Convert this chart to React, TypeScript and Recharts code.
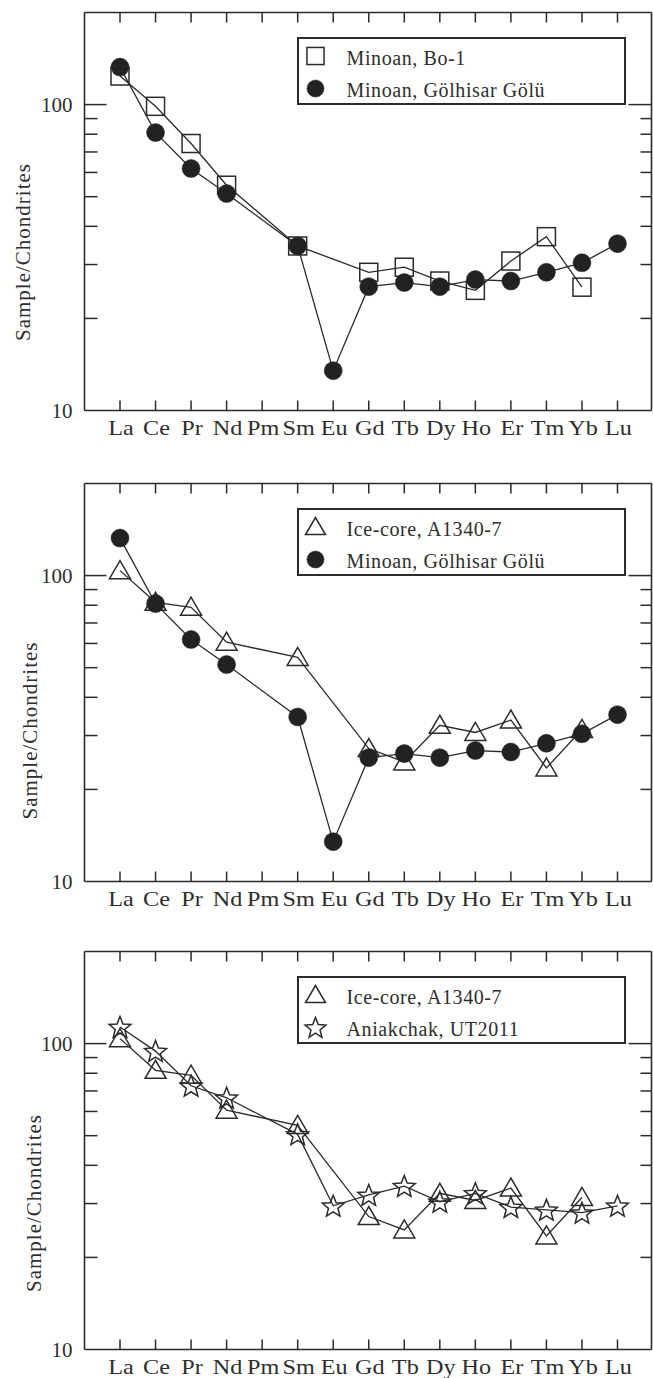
import React from 'react'
import { LineChart, Line, XAxis, YAxis, Legend } from 'recharts'

// rare earth elements on the x axis
const elements = ['La', 'Ce', 'Pr', 'Nd', 'Pm', 'Sm', 'Eu', 'Gd', 'Tb', 'Dy', 'Ho', 'Er', 'Tm', 'Yb', 'Lu']

const bo1 = [124, 98.7, 74.6, 54.5, null, 34.5, null, 28.3, 29.4, 26.5, 24.7, 30.8, 37.0, 25.3, null]
const golhisar = [132.6, 81.0, 61.8, 51.2, null, 34.5, 13.5, 25.4, 26.2, 25.4, 26.8, 26.5, 28.3, 30.4, 35.1]
const iceCore = [103.8, 81.8, 78.8, 60.6, null, 54.0, null, 27.2, 24.6, 32.4, 30.7, 33.7, 23.5, 31.4, null]
const aniakchak = [113.3, 94.5, 72.8, 66.5, null, 50.5, 29.5, 32.0, 34.2, 30.4, 32.4, 29.2, 28.6, 28.0, 29.5]

const yTicks = [10, 20, 30, 40, 50, 60, 70, 80, 90, 100]
const yDomain = [10, 200]

const data = elements.map((el, i) => ({
  el,
  bo1: bo1[i],
  golhisar: golhisar[i],
  iceCore: iceCore[i],
  aniakchak: aniakchak[i],
}))

type Marker = 'square' | 'circle' | 'triangle' | 'star'

const panels = [
  {
    top: 0,
    titleX: 23,
    titleY: 252,
    series: [
      { key: 'bo1', name: 'Minoan, Bo-1', marker: 'square' as Marker },
      { key: 'golhisar', name: 'Minoan, Gölhisar Gölü', marker: 'circle' as Marker },
    ],
  },
  {
    top: 470.5,
    titleX: 30,
    titleY: 259.5,
    series: [
      { key: 'iceCore', name: 'Ice-core, A1340-7', marker: 'triangle' as Marker },
      { key: 'golhisar', name: 'Minoan, Gölhisar Gölü', marker: 'circle' as Marker },
    ],
  },
  {
    top: 939.2,
    titleX: 34,
    titleY: 264,
    series: [
      { key: 'iceCore', name: 'Ice-core, A1340-7', marker: 'triangle' as Marker },
      { key: 'aniakchak', name: 'Aniakchak, UT2011', marker: 'star' as Marker },
    ],
  },
]

const INK = '#2b2b2b'
const TEXT = '#2e2e2e'
const FONT = "'Liberation Serif', 'Times New Roman', serif"

function starPoints(cx: number, cy: number, R: number, r: number) {
  const pts: string[] = []
  for (let i = 0; i < 10; i++) {
    const rad = i % 2 === 0 ? R : r
    const a = -Math.PI / 2 + (i * Math.PI) / 5
    pts.push(`${(cx + rad * Math.cos(a)).toFixed(2)},${(cy + rad * Math.sin(a)).toFixed(2)}`)
  }
  return pts.join(' ')
}

function MarkerShape({ type, cx, cy, s = 1 }: { type: Marker; cx: number; cy: number; s?: number }) {
  if (type === 'square') {
    const h = 9 * s
    return <rect x={cx - h} y={cy - h} width={2 * h} height={2 * h} fill="none" stroke={INK} strokeWidth={1.5} />
  }
  if (type === 'circle') {
    return <circle cx={cx} cy={cy} r={9 * s} fill="#222" stroke="#222" strokeWidth={0.5} />
  }
  if (type === 'triangle') {
    const pts = `${cx},${cy - 10 * s} ${cx - 10.5 * s},${cy + 8 * s} ${cx + 10.5 * s},${cy + 8 * s}`
    return <polygon points={pts} fill="none" stroke={INK} strokeWidth={1.5} strokeLinejoin="miter" />
  }
  return <polygon points={starPoints(cx, cy + 1 * s, 11.5 * s, 5 * s)} fill="none" stroke={INK} strokeWidth={1.5} />
}

const makeDot = (type: Marker) => (p: any) => {
  if (p.cx == null || p.cy == null || p.value == null) return <g key={`d-${p.index}`} />
  return (
    <g key={`d-${p.index}`}>
      <MarkerShape type={type} cx={p.cx} cy={p.cy} />
    </g>
  )
}

const LeftTick = (p: any) => {
  const v = p.payload.value
  return (
    <g>
      {v !== 10 && <line x1={p.x} y1={p.y} x2={p.x + (v === 100 ? 22 : 13)} y2={p.y} stroke={INK} strokeWidth={1.5} />}
      {(v === 10 || v === 100) && (
        <text x={p.x - 12} y={p.y} dy="0.35em" textAnchor="end" fontSize={21} fill={TEXT} fontFamily={FONT}>
          {v}
        </text>
      )}
    </g>
  )
}

const RightTick = (p: any) => {
  const v = p.payload.value
  if (v === 10) return <g />
  return <line x1={p.x} y1={p.y} x2={p.x - (v === 100 ? 23 : 11)} y2={p.y} stroke={INK} strokeWidth={1.5} />
}

// the original face is wider than Times, so the labels are stretched a little
const BottomTick = (p: any) => (
  <g>
    <line x1={p.x} y1={p.y} x2={p.x} y2={p.y - 10} stroke={INK} strokeWidth={1.5} />
    <text
      transform={`translate(${p.x + 1} ${p.y + 24}) scale(1.1 1)`}
      textAnchor="middle"
      fontSize={22}
      fill={TEXT}
      fontFamily={FONT}
    >
      {p.payload.value}
    </text>
  </g>
)

const TopTick = (p: any) => <line x1={p.x} y1={p.y} x2={p.x} y2={p.y + 10} stroke={INK} strokeWidth={1.5} />

// recharts overrides x/y on a label element, so the position goes in tx/ty
const YTitle = ({ tx, ty }: { tx: number; ty: number }) => (
  <text
    x={tx}
    y={ty}
    transform={`rotate(-90 ${tx} ${ty})`}
    textAnchor="middle"
    dominantBaseline="central"
    fontSize={21}
    letterSpacing={1}
    fill={TEXT}
    fontFamily={FONT}
  >
    Sample/Chondrites
  </text>
)

function LegendBox({ series }: { series: { key: string; name: string; marker: Marker }[] }) {
  return (
    <svg width={329} height={68} style={{ display: 'block' }}>
      <rect x={1} y={1} width={327} height={66} fill="#fff" stroke={INK} strokeWidth={2} />
      {series.map((s, i) => (
        <g key={s.key}>
          <MarkerShape type={s.marker} cx={18.5} cy={19 + i * 32.5} s={0.95} />
          <text x={49.5} y={28 + i * 31.5} fontSize={20} letterSpacing={0.6} fill={TEXT} fontFamily={FONT}>
            {s.name}
          </text>
        </g>
      ))}
    </svg>
  )
}

function Panel({ panel }: { panel: (typeof panels)[number] }) {
  const axisLine = { stroke: INK, strokeWidth: 1.6 }
  return (
    <div style={{ position: 'absolute', left: 0, top: panel.top }}>
      <LineChart width={653} height={470} data={data} margin={{ top: 11.5, right: 0.5, bottom: 58.5, left: 0 }}>
        <XAxis
          xAxisId="bottom"
          dataKey="el"
          type="category"
          height={1}
          padding={{ left: 35.5, right: 34 }}
          interval={0}
          tickSize={0}
          tickMargin={0}
          tickLine={false}
          axisLine={axisLine}
          tick={BottomTick}
        />
        <XAxis
          xAxisId="top"
          orientation="top"
          dataKey="el"
          type="category"
          height={1}
          padding={{ left: 35.5, right: 34 }}
          interval={0}
          tickSize={0}
          tickMargin={0}
          tickLine={false}
          axisLine={axisLine}
          tick={TopTick}
        />
        <YAxis
          yAxisId="left"
          width={84.5}
          type="number"
          scale="log"
          domain={yDomain}
          allowDataOverflow
          ticks={yTicks}
          interval={0}
          tickSize={0}
          tickMargin={0}
          tickLine={false}
          axisLine={axisLine}
          tick={LeftTick}
          label={<YTitle tx={panel.titleX} ty={panel.titleY} />}
        />
        <YAxis
          yAxisId="right"
          orientation="right"
          width={1}
          type="number"
          scale="log"
          domain={yDomain}
          allowDataOverflow
          ticks={yTicks}
          interval={0}
          tickSize={0}
          tickMargin={0}
          tickLine={false}
          axisLine={axisLine}
          tick={RightTick}
        />
        {panel.series.map((s) => (
          <Line
            key={s.key}
            xAxisId="bottom"
            yAxisId="left"
            dataKey={s.key}
            name={s.name}
            type="linear"
            stroke={INK}
            strokeWidth={1.3}
            connectNulls
            dot={makeDot(s.marker)}
            activeDot={false}
            isAnimationActive={false}
          />
        ))}
        <Legend
          layout="vertical"
          align="center"
          verticalAlign="middle"
          wrapperStyle={{ left: 297, top: 37, width: 329, height: 68 }}
          content={() => <LegendBox series={panel.series} />}
        />
      </LineChart>
    </div>
  )
}

export default function App() {
  return (
    <div style={{ position: 'absolute', left: 0, top: 0, width: 653, height: 1378, background: '#fff' }}>
      {panels.map((p, i) => (
        <Panel key={i} panel={p} />
      ))}
    </div>
  )
}
